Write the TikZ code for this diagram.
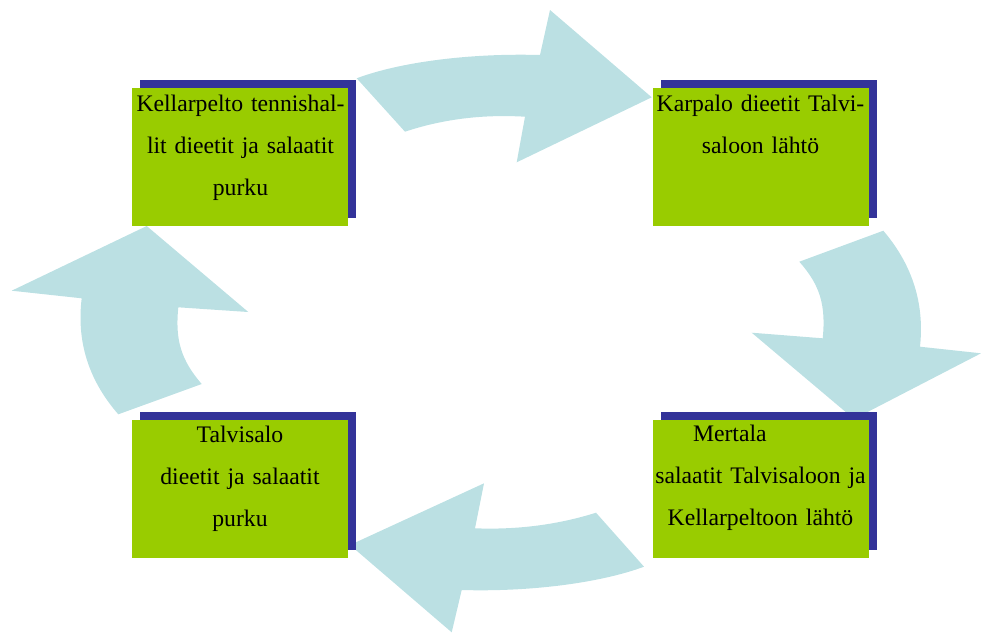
\documentclass[tikz,border=0pt]{standalone}
\usepackage{fontspec}
\setmainfont[WordSpace=0.9]{Liberation Serif}
\definecolor{arrowblue}{HTML}{BBE0E3}
\definecolor{boxgreen}{HTML}{99CC00}
\definecolor{shadowblue}{HTML}{333399}
\begin{document}
\begin{tikzpicture}[x=1pt,y=-1pt,
  shadowbox/.style={fill=shadowblue,draw=none,minimum width=216pt,minimum height=138pt,inner sep=0pt,anchor=north west},
  greenbox/.style={fill=boxgreen,draw=none,minimum width=216pt,minimum height=138pt,inner sep=0pt,anchor=north west},
  boxtext/.style={text width=216pt,align=center,inner sep=0pt,anchor=base,font=\fontsize{23.7}{42}\selectfont},
  bigarrow/.style={fill=arrowblue,draw=none}]
\useasboundingbox (0,0) rectangle (981,633);
% arrows (behind boxes)
\fill[bigarrow] (356.7,78.3) .. controls (400,62) and (470,53) .. (540,55)
  -- (550,10) -- (651.7,97.3) -- (516.7,162.3) -- (525,116.7)
  .. controls (480,114) and (440,120) .. (405,131.7) -- cycle;
\fill[bigarrow] (883.3,230.7) .. controls (910,262) and (925,300) .. (920,346.7)
  -- (981,353.3) -- (854,419) -- (751.7,332.7) -- (822.7,338.3)
  .. controls (826,305) and (820,285) .. (799.3,261.7) -- cycle;
\fill[bigarrow] (644,566.7) .. controls (600,583) and (530,592) .. (461.7,590)
  -- (451.7,632.3) -- (350,545) -- (484,483.3) -- (475,528.3)
  .. controls (520,530) and (560,524) .. (596,512.7) -- cycle;
\fill[bigarrow] (118.3,414.3) .. controls (91,383) and (76,345) .. (81.7,298.3)
  -- (11.7,290.7) -- (146.7,226) -- (248.3,312) -- (178.3,307.3)
  .. controls (175,340) and (181,360) .. (201.7,384) -- cycle;
% boxes
\node[shadowbox] (s1) at (140,80) {};
\node[greenbox] (g1) at (132,87.5) {};
\node[shadowbox] (s2) at (661,80) {};
\node[greenbox] (g2) at (653,88) {};
\node[shadowbox] (s3) at (140,412) {};
\node[greenbox] (g3) at (132,420) {};
\node[shadowbox] (s4) at (661,412) {};
\node[greenbox] (g4) at (653,420) {};
% texts
\node[boxtext] (t1) at (240.5,111.7) {Kellarpelto tennishal-\\lit dieetit ja salaatit\\purku};
\node[boxtext] (t2) at (760.5,111.7) {Karpalo dieetit Talvi-\\saloon lähtö};
\node[boxtext] (t3) at (240,442.7) {Talvisalo\\dieetit ja salaatit\\purku};
\node[boxtext] (t4) at (760.5,441.7) {\makebox[135pt][l]{Mertala}\\salaatit Talvisaloon ja\\Kellarpeltoon lähtö};
\end{tikzpicture}
\end{document}
